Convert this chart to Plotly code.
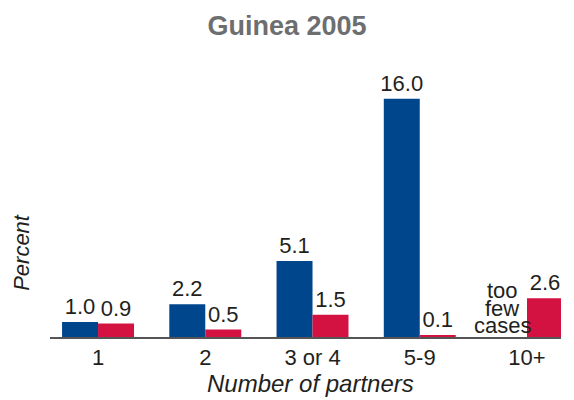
import plotly.graph_objects as go

categories = ["1", "2", "3 or 4", "5-9", "10+"]
men = [1.0, 2.2, 5.1, 16.0, None]
women = [0.9, 0.5, 1.5, 0.1, 2.6]
title = "Guinea 2005"
note_lines = ["too", "few", "cases"]

FONT = "Liberation Sans"
TXT = "#231f20"
BLUE = "#00468c"
RED = "#d41242"

def lbl(vals):
    return ["" if v is None else f"{v:.1f}" for v in vals]

fig = go.Figure()
fig.add_bar(x=categories, y=[0 if v is None else v for v in men], text=lbl(men),
            marker_color=BLUE, marker_line_width=0, textposition="outside",
            textfont=dict(family=FONT, size=22, color=TXT), cliponaxis=False,
            constraintext="none", name="Men")
fig.add_bar(x=categories, y=women, text=lbl(women),
            marker_color=RED, marker_line_width=0, textposition="outside",
            textfont=dict(family=FONT, size=22, color=TXT), cliponaxis=False,
            constraintext="none", name="Women")

ann = []
ys = [3.15, 1.92, 0.75]
for t, yv in zip(note_lines, ys):
    ann.append(dict(x=4, y=yv, xref="x", yref="y", text=t, showarrow=False,
                    xanchor="center", yanchor="middle", xshift=-25,
                    font=dict(family=FONT, size=22, color=TXT)))
ann.append(dict(x=0, xref="paper", xshift=-28, y=5.65, yref="y", text="<i>Percent</i>",
                textangle=-90, showarrow=False, xanchor="center", yanchor="middle",
                font=dict(family=FONT, size=22, color=TXT)))
ann.append(dict(x=0.51, xref="paper", y=0, yref="paper", yshift=-46, text="<i>Number of partners</i>",
                showarrow=False, xanchor="center", yanchor="middle",
                font=dict(family=FONT, size=24, color=TXT)))

fig.update_layout(
    width=574, height=400, barmode="group", bargap=0.329, bargroupgap=0,
    margin=dict(l=50, r=13, t=60, b=63),
    paper_bgcolor="white", plot_bgcolor="white", showlegend=False,
    title=dict(text="<b>" + title + "</b>", x=0.5, xanchor="center", y=0.935, yanchor="middle",
               font=dict(family=FONT, size=27, color="#6d6e70")),
    annotations=ann,
)
fig.update_xaxes(range=[-0.448, 4.317], showline=True, linecolor="#555555", linewidth=2,
                 ticks="", tickfont=dict(family=FONT, size=22, color=TXT), showgrid=False)
fig.update_yaxes(range=[0, 18.6], visible=False, showgrid=False, zeroline=False)

fig.write_html("out.html", config={"displayModeBar": False},
               post_script="document.body.style.margin='0';")
